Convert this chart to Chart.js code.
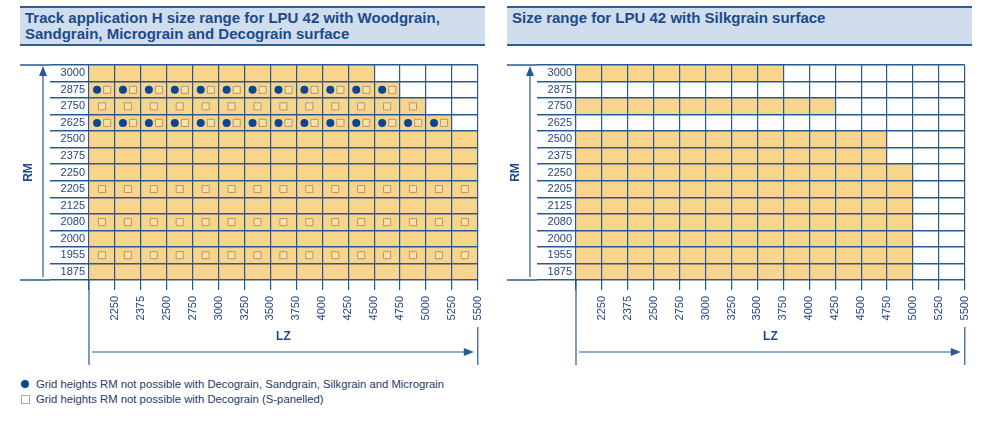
<!DOCTYPE html>
<html>
<head>
<meta charset="utf-8">
<script src="https://cdn.jsdelivr.net/npm/chart.js@4"></script>
<style>
  body { margin: 0; width: 990px; height: 424px; background: #fff; position: relative; overflow: hidden;
         font-family: 'Liberation Sans', Arial, sans-serif; }
  .head { position: absolute; top: 6px; width: 465px; height: 34px; background: #cfdded;
          border-top: 2px solid #2d5e97; border-bottom: 2px solid #2d5e97;
          color: #1c4b8b; font-weight: bold; font-size: 15px; line-height: 16px; padding: 2px 0 0 0; }
  .head span { display: block; padding-left: 5px; }
  .box { position: absolute; top: 0; width: 497px; height: 370px; }
  .legend { position: absolute; left: 20px; top: 377px; font-size: 11.3px; color: #27396a; line-height: 15px; }
  .legend div { position: relative; padding-left: 16px; }
  .dot { position: absolute; left: 1px; top: 3px; width: 8px; height: 8px; border-radius: 50%; background: #0b4594; }
  .sq { position: absolute; left: 1px; top: 3px; width: 7px; height: 7px; border: 1px solid #a9a9a9; background: #fff; }
</style>
</head>
<body>
<div class="head" style="left:20px"><span>Track application H size range for LPU 42 with Woodgrain,<br>Sandgrain, Micrograin and Decograin surface</span></div>
<div class="head" style="left:507px"><span>Size range for LPU 42 with Silkgrain surface</span></div>
<div class="box" style="left:0px"><canvas id="leftChart"></canvas></div>
<div class="box" style="left:487px"><canvas id="rightChart"></canvas></div>
<div class="legend">
  <div><i class="dot"></i>Grid heights RM not possible with Decograin, Sandgrain, Silkgrain and Micrograin</div>
  <div><i class="sq"></i>Grid heights RM not possible with Decograin (S-panelled)</div>
</div>
<script>
// column labels (LZ) and row labels (RM)
const lzLabels = ['2250', '2375', '2500', '2750', '3000', '3250', '3500', '3750', '4000', '4250', '4500', '4750', '5000', '5250', '5500'];
const rmLabels = ['3000', '2875', '2750', '2625', '2500', '2375', '2250', '2205', '2125', '2080', '2000', '1955', '1875'];

// widest LZ available per RM row (null = nothing)
const leftMaxLZ = ['4500', '4750', '5000', '5250', '5500', '5500', '5500', '5500', '5500', '5500', '5500', '5500', '5500'];
const rightMaxLZ = ['3750', null, '4250', null, '4750', '4750', '5000', '5000', '5000', '5000', '5000', '5000', '5000'];

// markers in the left chart
const dotRows = ['2875', '2625'];
const dotMaxLZ = ['4750', '5250'];
const squareRows = ['2875', '2750', '2625', '2205', '2080', '1955'];
const squareMaxLZ = ['4750', '5000', '5250', '5500', '5500', '5500'];

const gridColor = '#275a94';
const fillColor = '#f9d48b';
const textColor = '#24477e';

Chart.defaults.font.family = "'Liberation Sans', Arial, sans-serif";
Chart.defaults.font.size = 11;
Chart.defaults.color = textColor;

function colCount(lz) {
    return lz ? lzLabels.indexOf(lz) + 1 : 0;
}

function markerPoints(rows, maxes, shift) {
    const pts = [];
    rows.forEach((row, i) => {
        const n = colCount(maxes[i]);
        for (let k = 0; k < n; k++) {
            pts.push({ x: k + 0.5 + shift(row), y: row });
        }
    });
    return pts;
}

// arrows, extended frame lines
const decor = {
    id: 'decor',
    afterDraw(chart) {
        const ctx = chart.ctx;
        const a = chart.chartArea;
        const xs = chart.scales.x;
        const x0 = xs.getPixelForValue(0);
        const x15 = xs.getPixelForValue(15);
        ctx.save();
        ctx.strokeStyle = gridColor;
        ctx.fillStyle = gridColor;
        ctx.lineWidth = 1.5;
        ctx.beginPath();
        ctx.moveTo(a.left - 69, a.top); ctx.lineTo(a.left - 39, a.top);
        ctx.moveTo(a.left - 69, a.bottom); ctx.lineTo(a.left - 39, a.bottom);
        ctx.stroke();
        ctx.lineWidth = 1.2;
        ctx.beginPath();
        ctx.moveTo(x0, a.bottom); ctx.lineTo(x0, 365);
        ctx.moveTo(x15, 327); ctx.lineTo(x15, 365);
        // vertical RM arrow
        ctx.moveTo(a.left - 46, a.bottom - 3); ctx.lineTo(a.left - 46, a.top + 8);
        // horizontal LZ arrow
        ctx.moveTo(x0 + 3, 352); ctx.lineTo(x15 - 12, 352);
        ctx.stroke();
        ctx.beginPath();
        ctx.moveTo(a.left - 46, a.top + 1); ctx.lineTo(a.left - 50, a.top + 11); ctx.lineTo(a.left - 42, a.top + 11);
        ctx.closePath();
        ctx.moveTo(x15 - 4, 352); ctx.lineTo(x15 - 14, 348); ctx.lineTo(x15 - 14, 356);
        ctx.closePath();
        ctx.fill();
        ctx.restore();
    }
};

function makeChart(id, maxLZ, withMarkers) {
    const datasets = [{
        type: 'bar',
        order: 5,
        data: maxLZ.map(lz => [0, colCount(lz)]),
        backgroundColor: fillColor,
        borderWidth: 0,
        barPercentage: 1,
        categoryPercentage: 1
    }];
    if (withMarkers) {
        datasets.push({
            type: 'scatter',
            order: 1,
            data: markerPoints(dotRows, dotMaxLZ, () => -0.19),
            pointStyle: 'circle',
            pointRadius: 4,
            pointBackgroundColor: '#0b4594',
            pointBorderWidth: 0
        });
        datasets.push({
            type: 'scatter',
            order: 0,
            data: markerPoints(squareRows, squareMaxLZ, row => dotRows.includes(row) ? 0.2 : 0),
            pointStyle: 'rect',
            pointRadius: 5,
            pointBackgroundColor: '#fbe0a8',
            pointBorderColor: '#b8976a',
            pointBorderWidth: 1
        });
    }
    return new Chart(document.getElementById(id), {
        type: 'bar',
        data: { labels: rmLabels, datasets: datasets },
        options: {
            indexAxis: 'y',
            responsive: true,
            maintainAspectRatio: false,
            animation: false,
            events: [],
            layout: { padding: { left: 20, top: 65, right: 5, bottom: 0 } },
            plugins: { legend: { display: false }, tooltip: { enabled: false } },
            scales: {
                x: {
                    type: 'linear',
                    min: 0,
                    max: 15,
                    afterFit: s => { s.height = 90; },
                    grid: { z: 1, color: gridColor, lineWidth: 1.2, tickLength: 10, tickColor: gridColor },
                    border: { display: false },
                    ticks: {
                        stepSize: 1,
                        autoSkip: false,
                        minRotation: 90,
                        maxRotation: 90,
                        padding: 6,
                        color: textColor,
                        callback: v => v === 0 ? '' : lzLabels[v - 1]
                    },
                    title: { display: true, text: 'LZ', color: '#1c4b8b', font: { size: 12, weight: 'bold' }, padding: { top: 0, bottom: 26 } }
                },
                y: {
                    type: 'category',
                    labels: rmLabels,
                    offset: true,
                    afterFit: s => { s.width = 69; },
                    grid: { z: 1, offset: true, color: gridColor, lineWidth: 1.5, tickLength: 39, tickColor: gridColor },
                    border: { display: false },
                    ticks: { padding: -35, color: textColor },
                    title: { display: true, text: 'RM', color: '#1c4b8b', font: { size: 12, weight: 'bold' }, padding: { top: 1, bottom: 0 } }
                }
            }
        },
        plugins: [decor]
    });
}

makeChart('leftChart', leftMaxLZ, true);
makeChart('rightChart', rightMaxLZ, false);
</script>
</body>
</html>
